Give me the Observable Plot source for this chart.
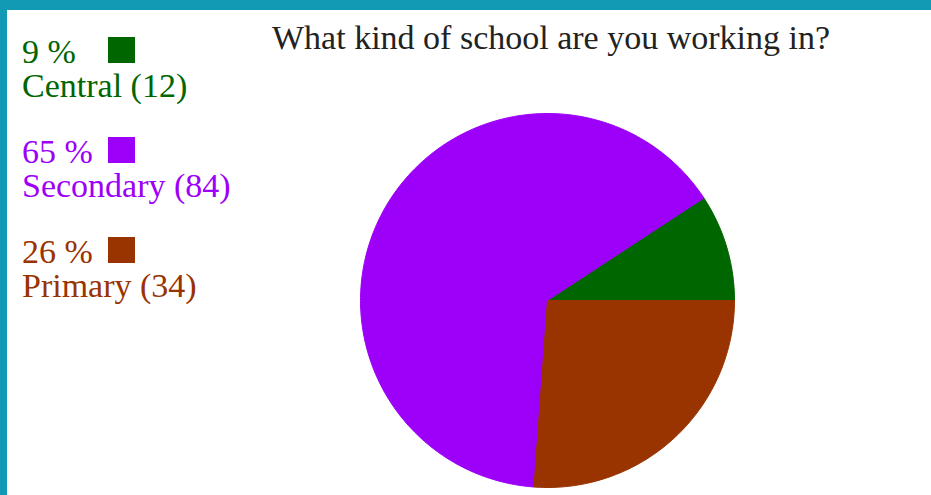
<!DOCTYPE html>
<html>
<head>
<meta charset="utf-8">
<script src="https://cdn.jsdelivr.net/npm/d3@7"></script>
<script src="https://cdn.jsdelivr.net/npm/@observablehq/plot@0.6"></script>
<style>
  html, body { margin: 0; padding: 0; background: #fff; }
  #wrap { position: relative; width: 931px; height: 495px; overflow: hidden; background: #fff; }
  #chart { position: absolute; left: 0; top: 0; }
  .bord { position: absolute; background: #129ab4; }
  .txt { position: absolute; font-family: "Liberation Serif", "Times New Roman", serif; font-size: 34px; line-height: 34px; white-space: pre; }
  .sq { position: absolute; width: 27px; height: 26px; }
</style>
</head>
<body>
<div id="wrap">
  <div id="chart"></div>
  <div id="legend"></div>
  <div class="txt" id="title" style="left:272px; top:21px; color:#222;"></div>
  <div class="bord" style="left:0; top:0; width:931px; height:10px;"></div>
  <div class="bord" style="left:0; top:0; width:7px; height:495px;"></div>
</div>
<script>
const title = "What kind of school are you working in?";
const categories = ["Central", "Secondary", "Primary"];
const counts = [12, 84, 34];
const percents = [9, 65, 26];
const colors = ["#006600", "#9d00f8", "#993300"];

document.getElementById("title").textContent = title;

// Legend (HTML)
const legend = document.getElementById("legend");
categories.forEach((c, i) => {
  const top = 35 + i * 100;
  const l1 = document.createElement("div");
  l1.className = "txt";
  l1.style.left = "22px"; l1.style.top = top + "px"; l1.style.color = colors[i];
  l1.textContent = percents[i] + " %";
  legend.appendChild(l1);
  const sq = document.createElement("div");
  sq.className = "sq";
  sq.style.left = "108px"; sq.style.top = (top + 2) + "px"; sq.style.background = colors[i];
  legend.appendChild(sq);
  const l2 = document.createElement("div");
  l2.className = "txt";
  l2.style.left = "22px"; l2.style.top = (top + 34) + "px"; l2.style.color = colors[i];
  l2.textContent = c + " (" + counts[i] + ")";
  legend.appendChild(l2);
});

// Pie slices: counterclockwise from east (3 o'clock)
const total = d3.sum(counts);
const cum = [0, ...d3.cumsum(counts)];
const slices = categories.map((c, i) => {
  const a0 = 2 * Math.PI * cum[i] / total;
  const a1 = 2 * Math.PI * cum[i + 1] / total;
  const n = Math.max(8, Math.ceil((a1 - a0) / (Math.PI / 180)));
  const pts = [{x: 0, y: 0}];
  for (let k = 0; k <= n; k++) {
    const a = a0 + (a1 - a0) * k / n;
    pts.push({x: Math.cos(a), y: Math.sin(a)});
  }
  pts.push({x: 0, y: 0});
  return {name: c, color: colors[i], pts};
});

const chart = Plot.plot({
  width: 931,
  height: 495,
  margin: 0,
  x: {domain: [-1, 1], range: [360, 734], axis: null},
  y: {domain: [-1, 1], range: [487, 113], axis: null},
  marks: slices.map(s => Plot.line(s.pts, {x: "x", y: "y", fill: s.color, stroke: s.color, strokeWidth: 1, curve: "linear"}))
});
document.getElementById("chart").appendChild(chart);
</script>
</body>
</html>
